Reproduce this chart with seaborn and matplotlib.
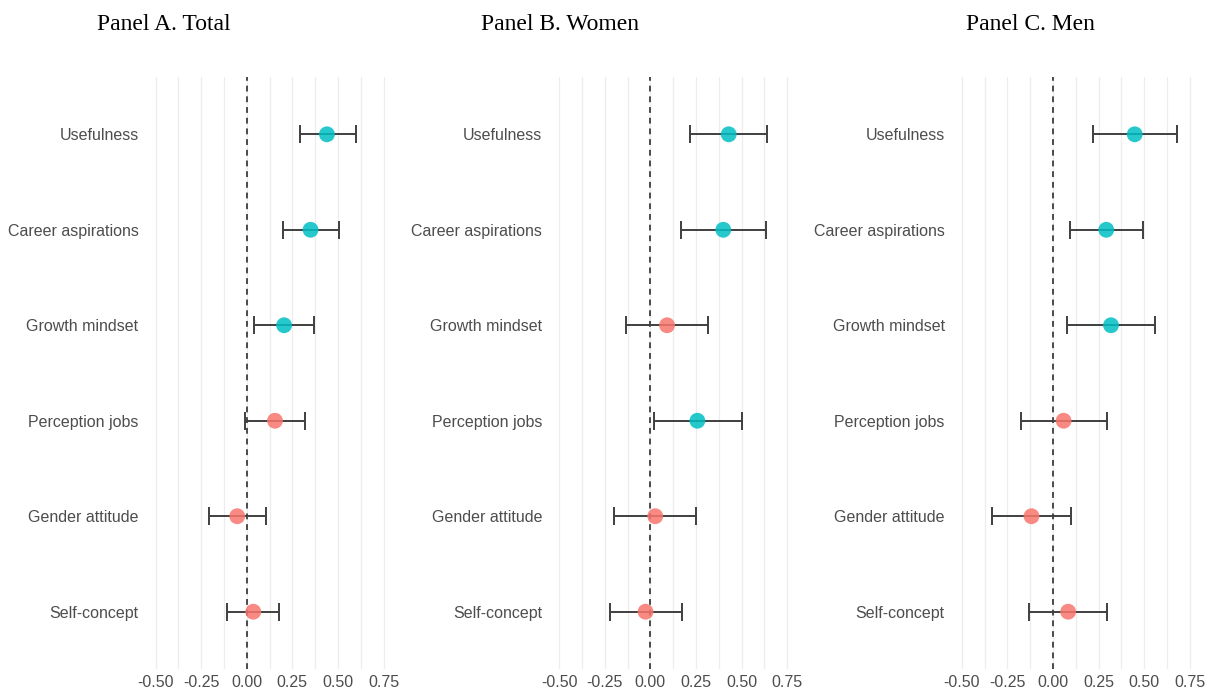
import numpy as np
import pandas as pd
import seaborn as sns
import matplotlib.pyplot as plt
from matplotlib.ticker import MultipleLocator

# -----------------------------
# Data
# -----------------------------
categories = ["Usefulness", "Career aspirations", "Growth mindset",
              "Perception jobs", "Gender attitude", "Self-concept"]

panels = ["Panel A. Total", "Panel B. Women", "Panel C. Men"]

total_est = [0.44, 0.35, 0.205, 0.155, -0.052, 0.036]
total_lo = [0.29, 0.20, 0.042, -0.011, -0.205, -0.108]
total_hi = [0.60, 0.505, 0.367, 0.321, 0.106, 0.175]

women_est = [0.43, 0.40, 0.092, 0.258, 0.027, -0.026]
women_lo = [0.22, 0.169, -0.134, 0.018, -0.198, -0.22]
women_hi = [0.638, 0.632, 0.315, 0.50, 0.249, 0.172]

men_est = [0.448, 0.292, 0.318, 0.058, -0.118, 0.083]
men_lo = [0.217, 0.094, 0.079, -0.175, -0.333, -0.129]
men_hi = [0.68, 0.492, 0.558, 0.294, 0.101, 0.294]

x_ticks = [-0.50, -0.25, 0.00, 0.25, 0.50, 0.75]

frames = []
for name, est, lo, hi in zip(panels,
                             [total_est, women_est, men_est],
                             [total_lo, women_lo, men_lo],
                             [total_hi, women_hi, men_hi]):
    frames.append(pd.DataFrame({
        "panel": name,
        "outcome": categories,
        "pos": np.arange(len(categories)),
        "estimate": est,
        "lower": lo,
        "upper": hi,
    }))
df = pd.concat(frames, ignore_index=True)
df["sig"] = np.where(df["lower"] > 0, "yes", "no")

# -----------------------------
# Style
# -----------------------------
sns.set_theme(style="white")
plt.rcParams["font.family"] = ["Liberation Sans", "DejaVu Sans"]

palette = {"yes": "#00BFC4", "no": "#F8766D"}
text_gray = "#4D4D4D"
grid_gray = "#EDEDED"

fig = plt.figure(figsize=(12.16, 6.95), dpi=100)

lefts = [144.1, 547.7, 950.4]
title_x = [164, 560, 1030]
ax_w = 250.8 / 1216
ax_b = 26 / 695
ax_h = 592 / 695

for i, name in enumerate(panels):
    ax = fig.add_axes([lefts[i] / 1216, ax_b, ax_w, ax_h])
    sub = df[df["panel"] == name]

    ax.errorbar(sub["estimate"], sub["pos"],
                xerr=[sub["estimate"] - sub["lower"], sub["upper"] - sub["estimate"]],
                fmt="none", ecolor="#3F3F3F", elinewidth=1.4,
                capsize=6.8, capthick=1.4, zorder=2)
    sns.scatterplot(data=sub, x="estimate", y="pos", hue="sig", palette=palette,
                    s=130, alpha=0.85, edgecolor="none", legend=False,
                    ax=ax, zorder=3)

    ax.axvline(0, color="#4A4A4A", linestyle=(0, (3, 2.5)), linewidth=1.4, zorder=1)

    ax.set_xlim(-0.5625, 0.8125)
    ax.set_ylim(len(categories) - 0.4, -0.6)
    ax.set_xticks(x_ticks)
    ax.set_xticklabels([f"{t:.2f}" for t in x_ticks])
    ax.xaxis.set_minor_locator(MultipleLocator(0.125))
    ax.set_yticks(np.arange(len(categories)))
    ax.set_yticklabels(categories)

    ax.grid(which="both", axis="x", color=grid_gray, linewidth=0.9, zorder=0)
    ax.grid(False, axis="y")
    ax.set_axisbelow(True)
    for s in ax.spines.values():
        s.set_visible(False)
    ax.tick_params(axis="both", which="both", length=0, labelsize=11.5,
                   labelcolor=text_gray)
    ax.tick_params(axis="x", pad=4)
    ax.tick_params(axis="y", pad=4)
    ax.set_xlabel("")
    ax.set_ylabel("")

    fig.text(title_x[i] / 1216, 1 - 24 / 695, name, ha="center", va="center",
             fontsize=17, family=["Liberation Serif", "DejaVu Serif"], color="black")

fig.savefig("out.png", dpi=100, facecolor="white")
